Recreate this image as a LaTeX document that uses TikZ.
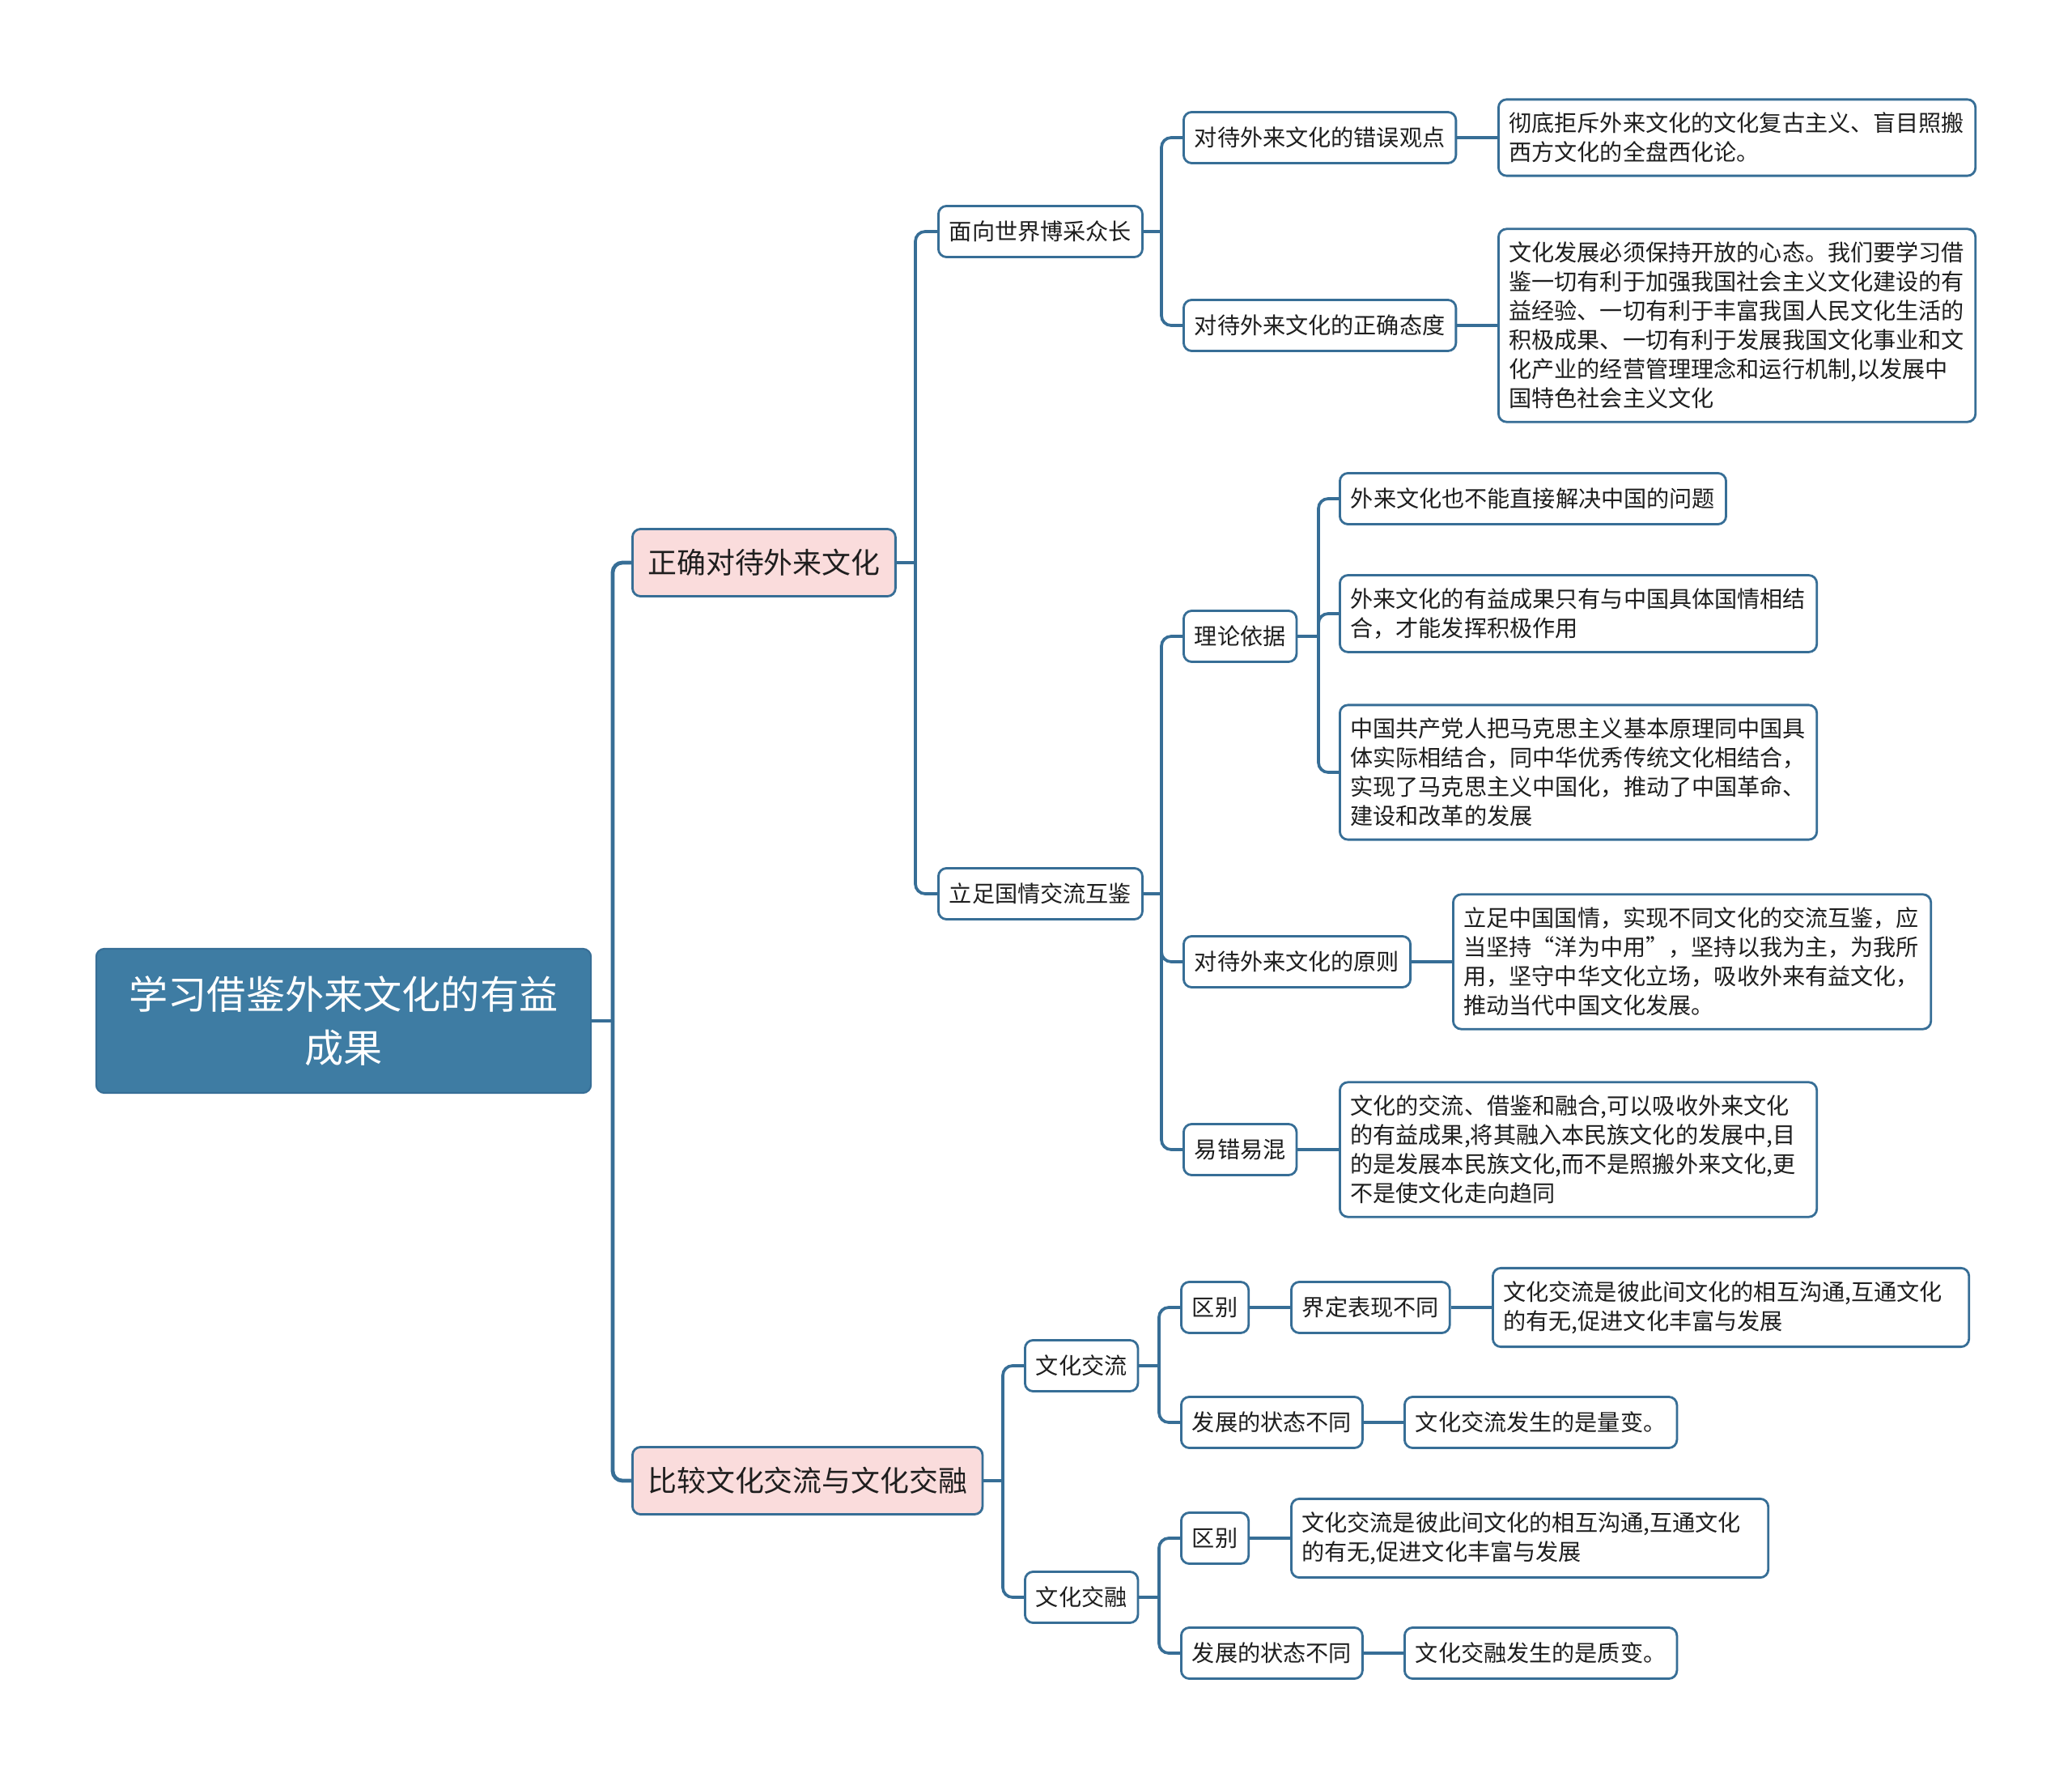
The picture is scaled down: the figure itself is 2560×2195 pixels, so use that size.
\documentclass[tikz,border=0pt]{standalone}
\usepackage{fontspec}
\setmainfont{Noto Sans CJK SC}
\usetikzlibrary{positioning}

\definecolor{topicblue}{RGB}{62,124,163}
\definecolor{linkblue}{RGB}{55,110,150}
\definecolor{subpink}{RGB}{250,220,220}
\definecolor{textdark}{RGB}{30,30,30}

\tikzset{
  topic/.style={draw=linkblue, fill=topicblue, rounded corners=0.1cm, text=white,
    font=\fontsize{13.7}{18.6}\selectfont, align=center,
    minimum width=6.11cm, minimum height=1.78cm, line width=0.6pt},
  subtopic/.style={draw=linkblue, fill=subpink, rounded corners=0.1cm, text=textdark,
    font=\fontsize{10.2}{12}\selectfont, inner xsep=0.19cm, minimum height=0.83cm,
    line width=0.8pt, anchor=west},
  itembox/.style={draw=linkblue, fill=white, rounded corners=0.1cm, text=textdark,
    font=\fontsize{8}{10.25}\selectfont, inner xsep=0.135cm, inner ysep=0.16cm,
    minimum height=0.63cm, line width=0.8pt, anchor=west},
  leafbox/.style={itembox, align=left, inner xsep=0.13cm, text width=#1},
  branch/.style={draw=linkblue, line width=1.05pt, rounded corners=0.12cm},
  mainbranch/.style={branch, line width=1.35pt}
}

\begin{document}
\begin{tikzpicture}[x=0.01cm, y=-0.01cm]
\useasboundingbox (0,0) rectangle (2560,2195);

% Root
\node[topic] (root) at (424.5,1261) {学习借鉴外来文化的有益\\成果};

% Main topics
\node[subtopic] (accept) at (780,695) {正确对待外来文化};
\node[subtopic] (compare) at (780,1829) {比较文化交流与文化交融};

\coordinate (j0) at (757,1261);
\draw[mainbranch] (root.east) -- (j0);
\draw[mainbranch] (j0) |- (accept.west);
\draw[mainbranch] (j0) |- (compare.west);

% Correctly treating foreign culture
\node[itembox] (world) at (1158,286) {面向世界博采众长};
\node[itembox] (china) at (1158,1104) {立足国情交流互鉴};

\coordinate (j1) at (1131,695);
\draw[branch] (accept.east) -- (j1);
\draw[branch] (j1) |- (world.west);
\draw[branch] (j1) |- (china.west);

% Facing the world
\node[itembox] (wrong) at (1461,170) {对待外来文化的错误观点};
\node[itembox] (right) at (1461,402) {对待外来文化的正确态度};

\coordinate (j2) at (1435,286);
\draw[branch] (world.east) -- (j2);
\draw[branch] (j2) |- (wrong.west);
\draw[branch] (j2) |- (right.west);

\node[leafbox=5.63cm] (wrongtxt) at (1850,170) {彻底拒斥外来文化的文化复古主义、盲目照搬\\西方文化的全盘西化论。};
\node[leafbox=5.63cm] (righttxt) at (1850,402) {文化发展必须保持开放的心态。我们要学习借\\鉴一切有利于加强我国社会主义文化建设的有\\益经验、一切有利于丰富我国人民文化生活的\\积极成果、一切有利于发展我国文化事业和文\\化产业的经营管理理念和运行机制,以发展中\\国特色社会主义文化};
\draw[branch] (wrong.east) -- (wrongtxt.west);
\draw[branch] (right.east) -- (righttxt.west);

% Based on national conditions
\node[itembox] (theory) at (1461,786) {理论依据};
\node[itembox] (principle) at (1461,1188) {对待外来文化的原则};
\node[itembox] (confuse) at (1461,1420) {易错易混};

\coordinate (j3) at (1435,1104);
\draw[branch] (china.east) -- (j3);
\draw[branch] (j3) |- (theory.west);
\draw[branch] (j3) |- (principle.west);
\draw[branch] (j3) |- (confuse.west);

\node[itembox] (reason1) at (1654,616) {外来文化也不能直接解决中国的问题};
\node[leafbox=5.63cm] (reason2) at (1654,758) {外来文化的有益成果只有与中国具体国情相结\\合，才能发挥积极作用};
\node[leafbox=5.63cm] (reason3) at (1654,954) {中国共产党人把马克思主义基本原理同中国具\\体实际相结合，同中华优秀传统文化相结合，\\实现了马克思主义中国化，推动了中国革命、\\建设和改革的发展};

\coordinate (j4) at (1629,786);
\draw[branch] (theory.east) -- (j4);
\draw[branch] (j4) |- (reason1.west);
\draw[branch] (j4) |- (reason2.west);
\draw[branch] (j4) |- (reason3.west);

\node[leafbox=5.64cm] (principletxt) at (1794,1188) {立足中国国情，实现不同文化的交流互鉴，应\\当坚持“洋为中用”，坚持以我为主，为我所\\用，坚守中华文化立场，吸收外来有益文化，\\推动当代中国文化发展。};
\node[leafbox=5.63cm] (confusetxt) at (1654,1420) {文化的交流、借鉴和融合,可以吸收外来文化\\的有益成果,将其融入本民族文化的发展中,目\\的是发展本民族文化,而不是照搬外来文化,更\\不是使文化走向趋同};
\draw[branch] (principle.east) -- (principletxt.west);
\draw[branch] (confuse.east) -- (confusetxt.west);

% Comparing exchange and blending
\node[itembox] (exchange) at (1265,1687) {文化交流};
\node[itembox] (blend) at (1265,1973) {文化交融};

\coordinate (j5) at (1239,1829);
\draw[branch] (compare.east) -- (j5);
\draw[branch] (j5) |- (exchange.west);
\draw[branch] (j5) |- (blend.west);

% Cultural exchange
\node[itembox] (diff1) at (1458,1615) {区别};
\node[itembox] (define) at (1594,1615) {界定表现不同};
\node[leafbox=5.62cm] (diff1txt) at (1843,1615) {文化交流是彼此间文化的相互沟通,互通文化\\的有无,促进文化丰富与发展};
\node[itembox] (state1) at (1458,1757) {发展的状态不同};
\node[itembox] (state1txt) at (1734,1757) {文化交流发生的是量变。};

\coordinate (j6) at (1432,1687);
\draw[branch] (exchange.east) -- (j6);
\draw[branch] (j6) |- (diff1.west);
\draw[branch] (j6) |- (state1.west);
\draw[branch] (diff1.east) -- (define.west);
\draw[branch] (define.east) -- (diff1txt.west);
\draw[branch] (state1.east) -- (state1txt.west);

% Cultural blending
\node[itembox] (diff2) at (1458,1900) {区别};
\node[leafbox=5.63cm] (diff2txt) at (1594,1900) {文化交流是彼此间文化的相互沟通,互通文化\\的有无,促进文化丰富与发展};
\node[itembox] (state2) at (1458,2042) {发展的状态不同};
\node[itembox] (state2txt) at (1734,2042) {文化交融发生的是质变。};

\coordinate (j7) at (1432,1973);
\draw[branch] (blend.east) -- (j7);
\draw[branch] (j7) |- (diff2.west);
\draw[branch] (j7) |- (state2.west);
\draw[branch] (diff2.east) -- (diff2txt.west);
\draw[branch] (state2.east) -- (state2txt.west);

\end{tikzpicture}
\end{document}
